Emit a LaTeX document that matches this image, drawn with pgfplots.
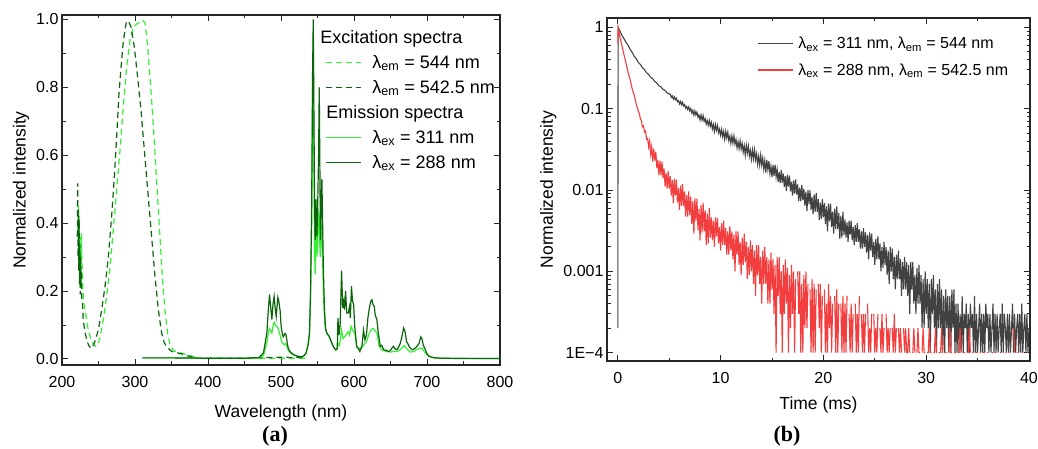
\documentclass[border=0pt]{standalone}
\usepackage{fontspec}
\setmainfont{Liberation Sans}
\newfontfamily\capfont{Liberation Serif}
\usepackage{pgfplots}
\pgfplotsset{compat=1.18}
\definecolor{lgreen}{RGB}{51,240,51}
\definecolor{dgreen}{RGB}{12,100,12}
\definecolor{dgray}{RGB}{66,66,66}
\definecolor{myred}{RGB}{242,62,62}
\pgfplotsset{
  myaxis/.style={
    scale only axis, anchor=south west,
    axis line style={line width=1.2pt,black!85},
    every tick/.style={line width=0.8pt,black!85},
    major tick length=6pt, minor tick length=3.5pt, tick align=inside,
    /pgf/number format/assume math mode=true,
    tick label style={font=\fontsize{16}{19}\selectfont},
    xticklabel style={yshift=-8pt},
    label style={font=\fontsize{17.5}{21}\selectfont},
    legend style={draw=none,fill=none,font=\fontsize{18}{21}\selectfont,
      inner sep=0pt},
    legend image code/.code={\draw[##1] (0pt,0pt) -- (35pt,0pt); \path (44pt,0pt);},
    legend cell align=left,
  }
}
\begin{document}
\begin{tikzpicture}
\path[use as bounding box] (0pt,0pt) rectangle (1038pt,449pt);
% ---------------- panel (a)
\begin{axis}[myaxis, at={(62pt,84pt)}, width=438pt, height=350pt,
  xmin=200, xmax=800, ymin=-0.018, ymax=1.013,
  xtick={200,300,400,500,600,700,800}, minor xtick={250,350,450,550,650,750},
  ytick={0,0.2,0.4,0.6,0.8,1}, minor ytick={0.1,0.3,0.5,0.7,0.9},
  yticklabel style={/pgf/number format/.cd,fixed,fixed zerofill,precision=1},
  xlabel={Wavelength (nm)}, ylabel={Normalized intensity},
  xlabel style={yshift=-10pt},
  legend style={at={(rel axis cs:0.6005,0.963)}, anchor=north west, row sep=6.5pt},
]
\addlegendimage{empty legend}\addlegendentry{\hspace*{-52pt}Excitation spectra}
\addplot[lgreen, line width=1.2pt, dash pattern=on 6pt off 4pt] coordinates {
(222,0.38) (222.5,0.45) (223,0.30) (223.5,0.42) (224,0.26) (224.5,0.36) (225,0.21) (225.5,0.31) (226,0.22) (226.5,0.37) (227.5,0.28) (228.5,0.21) (229.5,0.17) (231.5,0.144) (234,0.11) (236,0.085) (240,0.055) (243,0.045) (246,0.037) (248,0.038) (252,0.061) (256.6,0.115) (261.2,0.184) (265.8,0.27) (270.3,0.38) (274.9,0.50) (279.5,0.615) (284,0.743) (288.6,0.86) (293.2,0.94) (297,0.97) (300,0.983) (305,0.99) (310,0.998) (313.7,0.99) (317.4,0.92) (320.5,0.83) (323.7,0.733) (327.4,0.605) (330.6,0.488) (334.2,0.36) (337.4,0.242) (341,0.144) (344.7,0.076) (348,0.041) (351,0.03) (354.8,0.022) (359,0.02) (363.9,0.017) (368,0.014) (373,0.012) (378,0.008) (382,0.005) (386.8,0.002) (400,0.001) (450,0.001) (480,0.002) (500,0.002) (520,0.002) (535,0.002)
};
\addlegendentry{λ\textsubscript{em} = 544 nm}
\addplot[dgreen, line width=1.2pt, dash pattern=on 6pt off 4pt] coordinates {
(221,0.36) (221.5,0.517) (222,0.30) (222.5,0.44) (223,0.26) (223.5,0.41) (224,0.22) (224.5,0.34) (225,0.19) (225.5,0.30) (226,0.21) (226.5,0.26) (227,0.18) (228,0.17) (229,0.115) (231,0.085) (233.8,0.056) (236.5,0.04) (239.7,0.031) (242,0.036) (245,0.051) (249.8,0.085) (254.3,0.144) (258.9,0.213) (263.5,0.30) (268,0.42) (271.7,0.537) (274.9,0.655) (278,0.78) (281.7,0.88) (284,0.935) (286.3,0.969) (288,0.99) (290,0.996) (292,0.99) (294.5,0.978) (299,0.92) (303.6,0.83) (308.2,0.733) (312.8,0.615) (317.4,0.497) (322,0.38) (327.4,0.242) (332,0.144) (336.5,0.076) (340,0.048) (343.4,0.036) (347,0.028) (350.2,0.022) (355,0.019) (359.4,0.017) (365,0.014) (370,0.01) (376,0.007) (382,0.003) (390,0.002) (450,0.002) (480,0.004) (500,0.005) (520,0.004) (530,0.004) (535,0.003)
};
\addlegendentry{λ\textsubscript{em} = 542.5 nm}
\addlegendimage{empty legend}\addlegendentry{\hspace*{-46pt}Emission spectra}
\addplot[lgreen, line width=1.2pt] coordinates {
(310,0.003) (350,0.003) (400,0.002) (450,0.002) (470,0.003) (476,0.01) (480.6,0.047) (482.5,0.075) (484,0.09) (485.5,0.085) (487.5,0.076) (489,0.095) (490.6,0.108) (492.5,0.1) (494.3,0.096) (496,0.09) (497.9,0.076) (500,0.06) (501.6,0.047) (504.3,0.042) (506,0.045) (508,0.037) (510,0.025) (512.5,0.018) (517,0.012) (522,0.008) (528.5,0.006) (532,0.01) (534.4,0.018) (537,0.04) (539,0.07) (540.5,0.18) (542,0.4) (543.3,0.8) (544.2,0.97) (545,0.6) (546,0.32) (546.8,0.25) (547.5,0.38) (548.3,0.47) (549.2,0.3) (550.4,0.35) (551.5,0.43) (552.4,0.42) (553.3,0.32) (554,0.3) (555,0.38) (556,0.4) (557,0.3) (558,0.2) (559.5,0.12) (561,0.085) (563,0.075) (566,0.065) (569,0.05) (572,0.035) (575,0.025) (577,0.03) (578,0.046) (580,0.04) (583,0.085) (585,0.06) (587,0.065) (589,0.07) (592,0.08) (594,0.07) (596,0.096) (598,0.085) (601,0.076) (603.7,0.035) (606,0.032) (610,0.03) (613,0.041) (617,0.05) (620,0.07) (623,0.085) (626,0.09) (628,0.085) (631.4,0.076) (634,0.04) (638,0.027) (644,0.022) (649.7,0.02) (654,0.022) (659,0.022) (664,0.028) (666,0.033) (669,0.039) (672,0.03) (677,0.02) (682,0.022) (686,0.028) (690,0.03) (693,0.032) (696,0.022) (700,0.012) (705,0.006) (709,0.003) (720,0.002) (800,0.001)
};
\addlegendentry{λ\textsubscript{ex} = 311 nm}
\addplot[dgreen, line width=1.2pt] coordinates {
(310,0.003) (350,0.003) (400,0.002) (450,0.002) (470,0.004) (476,0.018) (480.6,0.076) (482.5,0.14) (484.3,0.19) (486,0.15) (487.5,0.116) (489,0.16) (490.6,0.184) (492,0.15) (493.4,0.125) (495.7,0.181) (497,0.17) (498.9,0.14) (500,0.1) (501.6,0.076) (503,0.065) (504.3,0.07) (505.5,0.075) (507,0.07) (509,0.04) (510.7,0.027) (514,0.018) (517,0.013) (522,0.008) (528.5,0.006) (532,0.01) (534.4,0.018) (537,0.04) (539,0.076) (540.5,0.2) (542,0.45) (543.3,0.85) (544.2,1.0) (545,0.75) (546,0.45) (546.8,0.35) (547.5,0.47) (548.3,0.42) (549.2,0.36) (550.4,0.47) (551.5,0.6) (552.4,0.80) (553.3,0.55) (554,0.35) (555,0.45) (556,0.53) (557,0.4) (558,0.27) (559.5,0.15) (561,0.09) (563,0.075) (566,0.067) (569,0.05) (572,0.035) (575,0.027) (577,0.03) (578,0.12) (579.5,0.07) (581,0.1) (583,0.26) (584.5,0.15) (586,0.17) (587,0.145) (588.5,0.2) (590,0.135) (592,0.135) (594,0.155) (595,0.12) (596.5,0.214) (598,0.17) (599.5,0.16) (601,0.096) (603.7,0.037) (606,0.03) (608,0.022) (611,0.04) (613,0.085) (615,0.056) (617,0.07) (619,0.12) (621,0.15) (623,0.17) (624.6,0.174) (626,0.16) (627.8,0.155) (629,0.13) (631.4,0.115) (633,0.08) (636,0.037) (638,0.04) (640.6,0.027) (644,0.025) (647.4,0.022) (650,0.025) (652,0.032) (654,0.037) (656,0.03) (658.9,0.027) (661,0.035) (663.5,0.046) (666,0.07) (668,0.091) (670,0.08) (672,0.05) (673.5,0.046) (676,0.035) (679.5,0.027) (683,0.03) (686.3,0.037) (689,0.045) (691.5,0.065) (693,0.06) (695,0.04) (697.7,0.027) (700,0.015) (702.3,0.008) (708,0.004) (718,0.002) (750,0.001) (800,0.001)
};
\addlegendentry{λ\textsubscript{ex} = 288 nm}
\end{axis}
% ---------------- panel (b)
\begin{axis}[myaxis, at={(607pt,88pt)}, width=423pt, height=343pt,
  ymode=log, xmin=-1.05, xmax=40.1, ymin=7.9e-5, ymax=1.3,
  xtick={0,10,20,30,40}, minor xtick={5,15,25,35},
  ytick={1e-4,1e-3,1e-2,1e-1,1}, yticklabels={1E−4,0.001,0.01,0.1,1},
  minor ytick={2e-4,3e-4,4e-4,5e-4,6e-4,7e-4,8e-4,9e-4,2e-3,3e-3,4e-3,5e-3,6e-3,7e-3,8e-3,9e-3,2e-2,3e-2,4e-2,5e-2,6e-2,7e-2,8e-2,9e-2,0.2,0.3,0.4,0.5,0.6,0.7,0.8,0.9},
  xlabel={Time (ms)}, ylabel={Normalized intensity},
  xlabel style={yshift=-6pt},
  unbounded coords=jump,
  legend image code/.code={\draw[#1] (0pt,0pt) -- (35pt,0pt); \path (38pt,0pt);},
  legend style={at={(rel axis cs:0.3546,0.950)}, anchor=north west, row sep=9pt,
    font=\fontsize{16}{20}\selectfont},
]
\addplot[dgray, line width=1.1pt] coordinates {
(0,2e-4) (0.03,1) (0.2,0.903) (0.4,0.796) (0.6,0.725) (0.8,0.652) (1,0.599) (1.2,0.535) (1.4,0.489) (1.6,0.44) (1.8,0.409) (2,0.369) (2.2,0.348) (2.4,0.318) (2.6,0.301) (2.8,0.276) (3,0.263) (3.2,0.242) (3.4,0.233) (3.6,0.215) (3.8,0.207) (4,0.1905) (4.2,0.185) (4.4,0.1725) (4.6,0.168) (4.8,0.1555) (5,0.1515)
(5.1,1508e-4) (5.2,1378e-4) (5.3,1433e-4) (5.4,1306e-4) (5.5,1395e-4) (5.6,1286e-4) (5.7,1342e-4) (5.8,1215e-4) (5.9,1251e-4) (6.0,1141e-4)
(6.1,1226e-4) (6.2,1115e-4) (6.3,1198e-4) (6.4,1077e-4) (6.5,1120e-4) (6.6,1011e-4) (6.7,1065e-4) (6.8,976e-4) (6.9,1049e-4) (7.0,938e-4)
(7.1,1003e-4) (7.2,882e-4) (7.3,951e-4) (7.4,831e-4) (7.5,937e-4) (7.6,835e-4) (7.7,906e-4) (7.8,785e-4) (7.9,834e-4) (8.0,727e-4)
(8.1,832e-4) (8.2,720e-4) (8.3,821e-4) (8.4,698e-4) (8.5,755e-4) (8.6,645e-4) (8.7,714e-4) (8.8,626e-4) (8.9,715e-4) (9.0,607e-4)
(9.1,678e-4) (9.2,563e-4) (9.3,639e-4) (9.4,526e-4) (9.5,638e-4) (9.6,543e-4) (9.7,618e-4) (9.8,504e-4) (9.9,559e-4) (10.0,471e-4)
(10.1,555e-4) (10.2,454e-4) (10.3,523e-4) (10.4,420e-4) (10.5,525e-4) (10.6,438e-4) (10.7,512e-4) (10.8,404e-4) (10.9,458e-4) (11.0,374e-4)
(11.1,461e-4) (11.2,377e-4) (11.3,461e-4) (11.4,366e-4) (11.5,417e-4) (11.6,330e-4) (11.7,392e-4) (11.8,322e-4) (11.9,402e-4) (12.0,319e-4)
(12.1,373e-4) (12.2,292e-4) (12.3,350e-4) (12.4,268e-4) (12.5,355e-4) (12.6,285e-4) (12.7,347e-4) (12.8,261e-4) (12.9,306e-4) (13.0,239e-4)
(13.1,311e-4) (13.2,242e-4) (13.3,312e-4) (13.4,235e-4) (13.5,277e-4) (13.6,207e-4) (13.7,259e-4) (13.8,202e-4) (13.9,268e-4) (14.0,202e-4)
(14.1,246e-4) (14.2,181e-4) (14.3,229e-4) (14.4,163e-4) (14.5,234e-4) (14.6,178e-4) (14.7,228e-4) (14.8,159e-4) (14.9,196e-4) (15.0,144e-4)
(15.1,202e-4) (15.2,149e-4) (15.3,205e-4) (15.4,145e-4) (15.5,179e-4) (15.6,125e-4) (15.7,166e-4) (15.8,122e-4) (15.9,175e-4) (16.0,123e-4)
(16.1,159e-4) (16.2,109e-4) (16.3,148e-4) (16.4,97e-4) (16.5,153e-4) (16.6,110e-4) (16.7,150e-4) (16.8,96e-4) (16.9,126e-4) (17.0,85e-4)
(17.1,131e-4) (17.2,90e-4) (17.3,135e-4) (17.4,88e-4) (17.5,117e-4) (17.6,73e-4) (17.7,107e-4) (17.8,73e-4) (17.9,115e-4) (18.0,75e-4)
(18.1,104e-4) (18.2,64e-4) (18.3,95e-4) (18.4,55e-4) (18.5,100e-4) (18.6,67e-4) (18.7,99e-4) (18.8,57e-4) (18.9,82e-4) (19.0,50e-4)
(19.1,88e-4) (19.2,54e-4) (19.3,92e-4) (19.4,54e-4) (19.5,77e-4) (19.6,43e-4) (19.7,70e-4) (19.8,44e-4) (19.9,77e-4) (20.0,46e-4)
(20.1,69e-4) (20.2,38e-4) (20.3,63e-4) (20.4,31e-4) (20.5,68e-4) (20.6,41e-4) (20.7,68e-4) (20.8,35e-4) (20.9,54e-4) (21.0,29e-4)
(21.1,59e-4) (21.2,33e-4) (21.3,63e-4) (21.4,33e-4) (21.5,52e-4) (21.6,25e-4) (21.7,48e-4) (21.8,26e-4) (21.9,54e-4) (22.0,28e-4)
(22.1,43e-4) (22.2,26e-4) (22.3,40e-4) (22.4,23e-4) (22.5,42e-4) (22.6,28e-4) (22.7,42e-4) (22.8,24e-4) (22.9,35e-4) (23.0,21e-4)
(23.1,37e-4) (23.2,23e-4) (23.3,39e-4) (23.4,23e-4) (23.5,33e-4) (23.6,19e-4) (23.7,31e-4) (23.8,19e-4) (23.9,34e-4) (24.0,20e-4)
(24.1,30e-4) (24.2,17e-4) (24.3,28e-4) (24.4,14e-4) (24.5,30e-4) (24.6,18e-4) (24.7,29e-4) (24.8,15e-4) (24.9,23e-4) (25.0,12e-4)
(25.1,25e-4) (25.2,14e-4) (25.3,27e-4) (25.4,14e-4) (25.5,22e-4) (25.6,10e-4) (25.7,20e-4) (25.8,11e-4) (25.9,23e-4) (26.0,12e-4)
(26.1,20e-4) (26.2,9e-4) (26.3,18e-4) (26.4,7e-4) (26.5,20e-4) (26.6,10e-4) (26.7,19e-4) (26.8,8e-4) (26.9,15e-4) (27.0,6e-4)
(27.1,16e-4) (27.2,8e-4) (27.3,18e-4) (27.4,8e-4) (27.5,14e-4) (27.6,5e-4) (27.7,13e-4) (27.8,6e-4) (27.9,15e-4) (28.0,6e-4)
(28.1,13e-4) (28.2,5e-4) (28.3,12e-4) (28.4,3e-4) (28.5,13e-4) (28.6,6e-4) (28.7,13e-4) (28.8,4e-4) (28.9,9e-4) (29.0,3e-4)
(29.1,11e-4) (29.2,4e-4) (29.3,12e-4) (29.4,4e-4) (29.5,9e-4) (29.6,2e-4) (29.7,8e-4) (29.8,2e-4) (29.9,10e-4) (30.0,3e-4)
(30.1,8e-4) (30.2,2e-4) (30.3,7e-4) (30.4,1e-4) (30.5,8e-4) (30.6,3e-4) (30.7,9e-4) (30.8,2e-4) (30.9,6e-4) (31.0,1e-4)
(31.1,7e-4) (31.2,2e-4) (31.3,8e-4) (31.4,2e-4) (31.5,6e-4) (31.6,1e-4) (31.7,5e-4) (31.8,1e-4) (31.9,6e-4) (32.0,2e-4)
(32.1,5e-4) (32.2,1e-4) (32.3,5e-4) (32.4,1e-4) (32.5,6e-4) (32.6,2e-4) (32.7,6e-4) (32.8,1e-4) (32.9,4e-4) (33.0,1e-4)
(33.1,4e-4) (33.2,1e-4) (33.3,3e-4) (33.4,1e-4) (33.5,5e-4) (33.6,1e-4) (33.7,3e-4) (33.8,2e-4) (33.9,4e-4) (34.0,1e-4)
(34.1,3e-4) (34.2,1e-4) (34.3,4e-4) (34.4,2e-4) (34.5,3e-4) (34.6,1e-4) (34.7,5e-4) (34.8,1e-4) (34.9,3e-4) (35.0,1e-4)
(35.1,2e-4) (35.2,4e-4) (35.3,1e-4) (35.4,3e-4) (35.5,1e-4) (35.6,3e-4) (35.7,1e-4) (35.8,4e-4) (35.9,2e-4) (36.0,3e-4)
(36.1,1e-4) (36.2,3e-4) (36.3,1e-4) (36.4,2e-4) (36.5,4e-4) (36.6,1e-4) (36.7,3e-4) (36.8,1e-4) (36.9,3e-4) (37.0,1e-4)
(37.1,2e-4) (37.2,3e-4) (37.3,1e-4) (37.4,4e-4) (37.5,1e-4) (37.6,3e-4) (37.7,2e-4) (37.8,1e-4) (37.9,3e-4) (38.0,1e-4)
(38.1,3e-4) (38.2,1e-4) (38.3,2e-4) (38.4,4e-4) (38.5,1e-4) (38.6,3e-4) (38.7,1e-4) (38.8,2e-4) (38.9,3e-4) (39.0,1e-4)
(39.1,3e-4) (39.2,1e-4) (39.3,4e-4) (39.4,1e-4) (39.5,2e-4) (39.6,3e-4) (39.7,1e-4) (39.8,3e-4) (39.9,1e-4) (40.0,2e-4)
};
\addlegendentry{λ\textsubscript{ex} = 311 nm, λ\textsubscript{em} = 544 nm}
\addplot[myred, line width=1.1pt] coordinates {
(0,0.63) (0.03,1) (0.2,0.773) (0.4,0.599) (0.6,0.46) (0.8,0.362) (1,0.279) (1.2,0.227) (1.4,0.175) (1.6,0.1455) (1.8,0.113) (2,0.0933)
(2.1,867e-4) (2.2,746e-4) (2.3,714e-4) (2.4,598e-4) (2.5,612e-4) (2.6,513e-4) (2.7,528e-4) (2.8,420e-4) (2.9,430e-4) (3.0,338e-4)
(3.1,400e-4) (3.2,276e-4) (3.3,341e-4) (3.4,223e-4) (3.5,322e-4) (3.6,229e-4) (3.7,295e-4) (3.8,186e-4) (3.9,232e-4) (4.0,152e-4)
(4.1,229e-4) (4.2,151e-4) (4.3,223e-4) (4.4,140e-4) (4.5,184e-4) (4.6,110e-4) (4.7,162e-4) (4.8,104e-4) (4.9,170e-4) (5.0,104e-4)
(5.1,148e-4) (5.2,85e-4) (5.3,132e-4) (5.4,69e-4) (5.5,138e-4) (5.6,85e-4) (5.7,134e-4) (5.8,70e-4) (5.9,105e-4) (6.0,57e-4)
(6.1,113e-4) (6.2,64e-4) (6.3,118e-4) (6.4,63e-4) (6.5,96e-4) (6.6,47e-4) (6.7,87e-4) (6.8,47e-4) (6.9,96e-4) (7.0,49e-4)
(7.1,82e-4) (7.2,38e-4) (7.3,73e-4) (7.4,29e-4) (7.5,79e-4) (7.6,42e-4) (7.7,78e-4) (7.8,32e-4) (7.9,58e-4) (8.0,24e-4)
(8.1,65e-4) (8.2,30e-4) (8.3,70e-4) (8.4,31e-4) (8.5,56e-4) (8.6,21e-4) (8.7,51e-4) (8.8,22e-4) (8.9,60e-4) (9.0,26e-4)
(9.1,46e-4) (9.2,24e-4) (9.3,42e-4) (9.4,20e-4) (9.5,46e-4) (9.6,27e-4) (9.7,45e-4) (9.8,22e-4) (9.9,35e-4) (10.0,18e-4)
(10.1,39e-4) (10.2,21e-4) (10.3,42e-4) (10.4,21e-4) (10.5,34e-4) (10.6,16e-4) (10.7,31e-4) (10.8,16e-4) (10.9,36e-4) (11.0,18e-4)
(11.1,31e-4) (11.2,14e-4) (11.3,28e-4) (11.4,10e-4) (11.5,31e-4) (11.6,16e-4) (11.7,31e-4) (11.8,12e-4) (11.9,23e-4) (12.0,9e-4)
(12.1,26e-4) (12.2,12e-4) (12.3,29e-4) (12.4,13e-4) (12.5,23e-4) (12.6,8e-4) (12.7,20e-4) (12.8,9e-4) (12.9,24e-4) (13.0,10e-4)
(13.1,21e-4) (13.2,7e-4) (13.3,18e-4) (13.4,5e-4) (13.5,21e-4) (13.6,9e-4) (13.7,21e-4) (13.8,7e-4) (13.9,15e-4) (14.0,4e-4)
(14.1,18e-4) (14.2,7e-4) (14.3,20e-4) (14.4,7e-4) (14.5,15e-4) (14.6,4e-4) (14.7,14e-4) (14.8,4e-4) (14.9,17e-4) (15.0,6e-4)
(15.1,14e-4) (15.2,3e-4) (15.3,12e-4) (15.4,1e-4) (15.5,15e-4) (15.6,5e-4) (15.7,15e-4) (15.8,3e-4) (15.9,10e-4) (16.0,1e-4)
(16.1,12e-4) (16.2,3e-4) (16.3,14e-4) (16.4,4e-4) (16.5,11e-4) (16.6,1e-4) (16.7,9e-4) (16.8,2e-4) (16.9,12e-4) (17.0,3e-4)
(17.1,10e-4) (17.2,1e-4) (17.3,8e-4) (17.4,nan) (17.5,10e-4) (17.6,3e-4) (17.7,10e-4) (17.8,1e-4) (17.9,7e-4) (18.0,1e-4)
(18.1,9e-4) (18.2,2e-4) (18.3,10e-4) (18.4,2e-4) (18.5,7e-4) (18.6,nan) (18.7,6e-4) (18.8,1e-4) (18.9,8e-4) (19.0,1e-4)
(19.1,7e-4) (19.2,1e-4) (19.3,6e-4) (19.4,nan) (19.5,7e-4) (19.6,2e-4) (19.7,7e-4) (19.8,1e-4) (19.9,5e-4) (20.0,nan)
(20.1,6e-4) (20.2,1e-4) (20.3,4e-4) (20.4,1e-4) (20.5,7e-4) (20.6,2e-4) (20.7,5e-4) (20.8,1e-4) (20.9,4e-4) (21.0,nan)
(21.1,5e-4) (21.2,1e-4) (21.3,6e-4) (21.4,1e-4) (21.5,4e-4) (21.6,nan) (21.7,4e-4) (21.8,1e-4) (21.9,5e-4) (22.0,1e-4)
(22.1,4e-4) (22.2,1e-4) (22.3,5e-4) (22.4,nan) (22.5,3e-4) (22.6,1e-4) (22.7,4e-4) (22.8,1e-4) (22.9,3e-4) (23.0,nan)
(23.1,4e-4) (23.2,1e-4) (23.3,3e-4) (23.4,1e-4) (23.5,5e-4) (23.6,nan) (23.7,3e-4) (23.8,1e-4) (23.9,3e-4) (24.0,1e-4)
(24.1,3e-4) (24.2,nan) (24.3,4e-4) (24.4,1e-4) (24.5,2e-4) (24.6,1e-4) (24.7,3e-4) (24.8,nan) (24.9,3e-4) (25.0,1e-4)
(25.1,2e-4) (25.2,1e-4) (25.3,3e-4) (25.4,nan) (25.5,2e-4) (25.6,1e-4) (25.7,3e-4) (25.8,1e-4) (25.9,2e-4) (26.0,nan)
(26.1,3e-4) (26.2,1e-4) (26.3,2e-4) (26.4,1e-4) (26.5,2e-4) (26.6,nan) (26.7,2e-4) (26.8,1e-4) (26.9,3e-4) (27.0,1e-4)
(27.1,2e-4) (27.2,nan) (27.3,2e-4) (27.4,1e-4) (27.5,2e-4) (27.6,1e-4) (27.7,nan) (27.8,2e-4) (27.9,1e-4) (28.0,2e-4)
(28.1,1e-4) (28.2,1e-4) (28.3,2e-4) (28.4,1e-4) (28.5,nan) (28.6,1e-4) (28.7,1e-4) (28.8,2e-4) (28.9,1e-4) (29.0,nan)
(29.1,1e-4) (29.2,2e-4) (29.3,1e-4) (29.4,1e-4) (29.5,nan) (29.6,1e-4) (29.7,2e-4) (29.8,1e-4) (29.9,1e-4) (30.0,nan)
(30.1,1e-4) (30.2,1e-4) (30.3,2e-4) (30.4,1e-4) (30.5,1e-4) (30.6,nan) (30.7,1e-4) (30.8,1e-4) (30.9,2e-4) (31.0,1e-4)
(31.1,nan) (31.2,1e-4) (31.3,1e-4) (31.4,1e-4) (31.5,2e-4) (31.6,1e-4) (31.7,nan) (31.8,1e-4) (31.9,1e-4) (32.0,1e-4)
(32.1,nan) (32.2,1e-4) (32.3,2e-4) (32.4,1e-4) (32.5,1e-4) (32.6,nan) (32.7,1e-4) (32.8,1e-4) (32.9,1e-4) (33.0,nan)
(33.1,1e-4) (33.2,1e-4) (33.3,2e-4) (33.4,1e-4) (33.5,nan) (33.6,1e-4) (33.7,1e-4) (33.8,1e-4) (33.9,nan) (34.0,1e-4)
(34.1,1e-4) (34.2,2e-4) (34.3,1e-4) (34.4,nan) (34.5,1e-4) (34.6,1e-4) (34.7,nan) (34.8,1e-4) (34.9,1e-4) (35.0,1e-4)
(35.1,nan) (35.2,1e-4) (35.3,1e-4) (35.4,nan) (35.5,1e-4) (35.6,1e-4) (35.7,1e-4) (35.8,nan) (35.9,1e-4) (36.0,1e-4)
(36.1,nan) (36.2,1e-4) (36.3,nan) (36.4,1e-4) (36.5,1e-4) (36.6,nan) (36.7,1e-4) (36.8,1e-4) (36.9,nan) (37.0,1e-4)
(37.1,nan) (37.2,1e-4) (37.3,1e-4) (37.4,nan) (37.5,1e-4) (37.6,nan) (37.7,1e-4) (37.8,1e-4) (37.9,nan) (38.0,1e-4)
(38.1,1e-4) (38.2,nan) (38.3,1e-4) (38.4,nan) (38.5,2e-4) (38.6,1e-4) (38.7,nan) (38.8,1e-4) (38.9,1e-4) (39.0,nan)
(39.1,1e-4) (39.2,nan) (39.3,1e-4) (39.4,1e-4) (39.5,nan) (39.6,1e-4) (39.7,nan) (39.8,1e-4) (39.9,1e-4) (40.0,nan)
};
\addlegendentry{λ\textsubscript{ex} = 288 nm, λ\textsubscript{em} = 542.5 nm}
\end{axis}
\node[font=\capfont\bfseries\fontsize{22}{26}\selectfont] at (275pt,13pt) {(a)};
\node[font=\capfont\bfseries\fontsize{22}{26}\selectfont] at (787pt,13pt) {(b)};
\end{tikzpicture}
\end{document}
